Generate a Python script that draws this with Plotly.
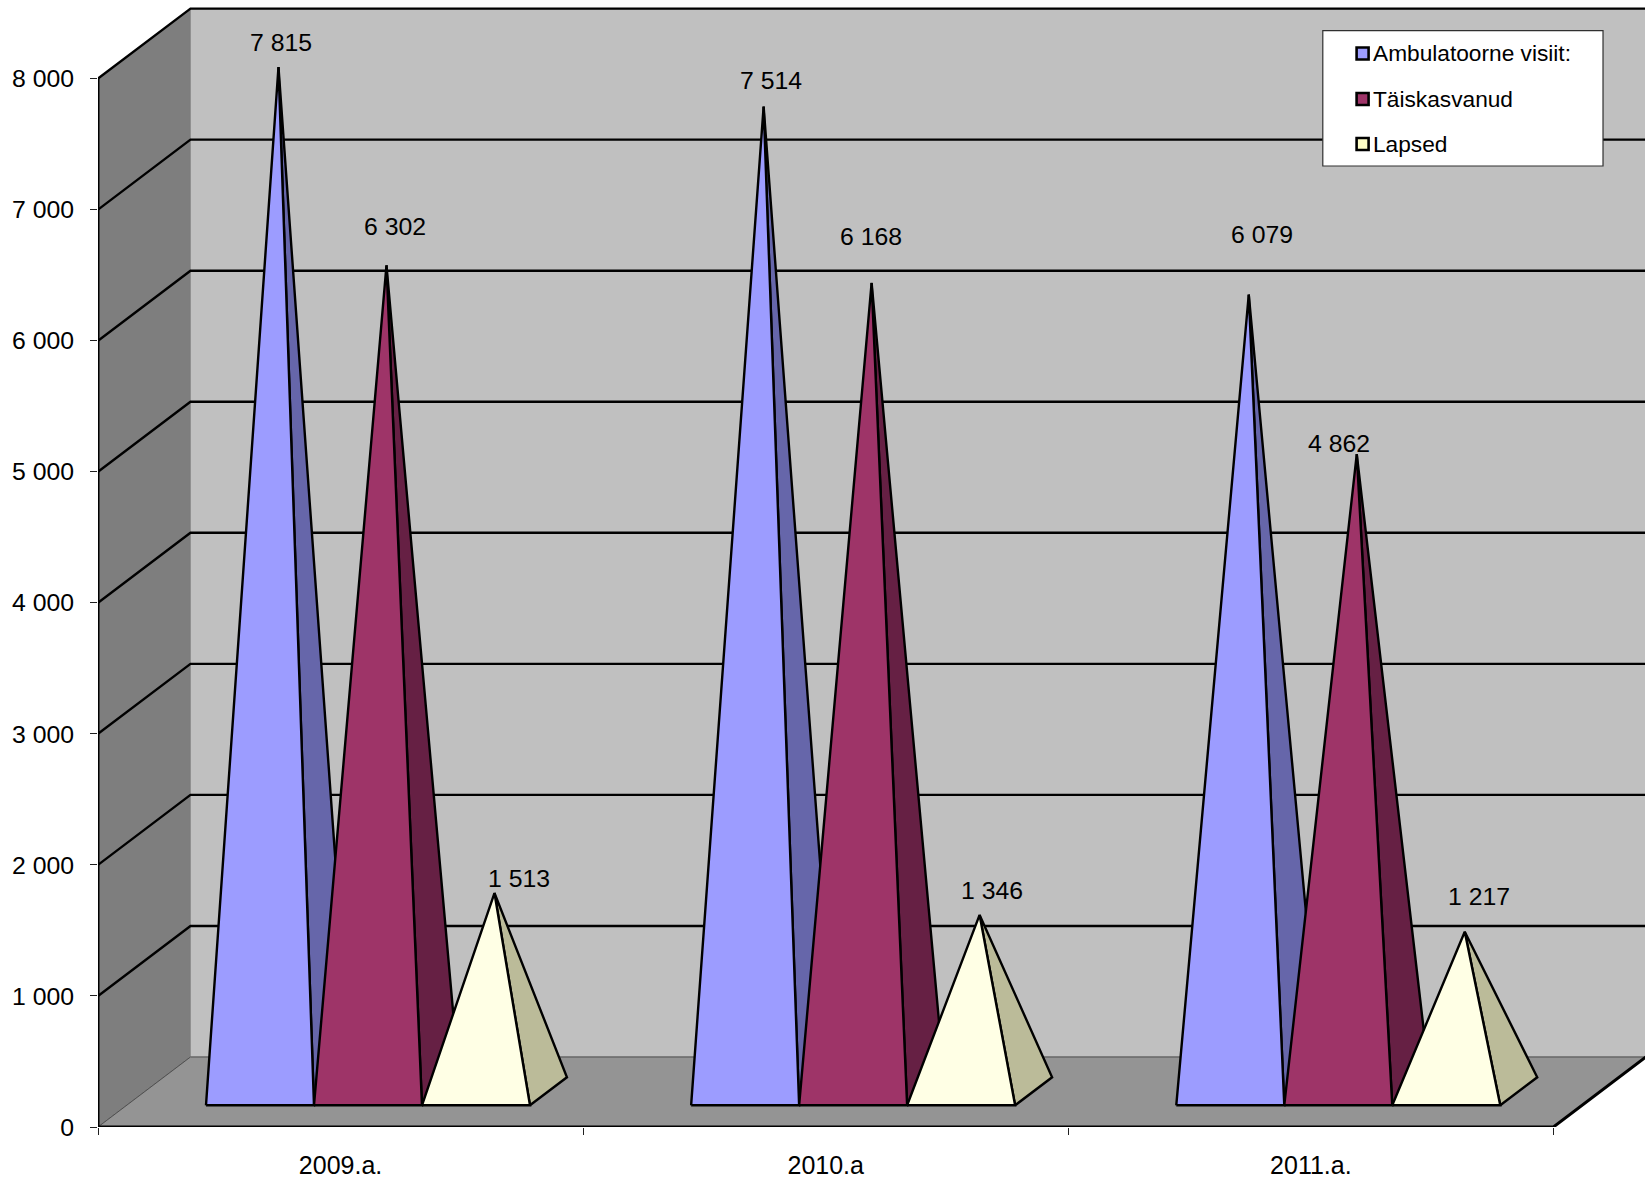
import plotly.graph_objects as go

categories = ["2009.a.", "2010.a", "2011.a."]
series_names = ["Ambulatoorne visiit:", "Täiskasvanud", "Lapsed"]
ambulatoorne = [7815, 7514, 6079]
taiskasvanud = [6302, 6168, 4862]
lapsed = [1513, 1346, 1217]
y_ticks = [0, 1000, 2000, 3000, 4000, 5000, 6000, 7000, 8000]
y_tick_labels = ["0", "1 000", "2 000", "3 000", "4 000", "5 000", "6 000", "7 000", "8 000"]
label_texts = [["7 815", "7 514", "6 079"], ["6 302", "6 168", "4 862"], ["1 513", "1 346", "1 217"]]

series_values = [ambulatoorne, taiskasvanud, lapsed]
front_colors = ["#9C9CFF", "#9E3468", "#FFFFE5"]
side_colors = ["#6666AA", "#662044", "#BBBB99"]
swatch_colors = ["#9C9CFF", "#9E3468", "#FFFFC8"]

# chart scale and oblique projection
PX_PER_CAT = 485.3
PX_PER_UNIT = 0.13105
DEPTH_X = 92.5 / PX_PER_CAT
DEPTH_Y = 70 / PX_PER_UNIT
BAR_W = 0.2226
BAR_START = 0.1635
NEAR, FAR = 0.31, 0.71
N = len(categories)


def proj(x, v, d=0.0):
    return x + d * DEPTH_X, v + d * DEPTH_Y


def poly(points, fill, line="black", width=2.4):
    return go.Scatter(
        x=[p[0] for p in points] + [points[0][0]],
        y=[p[1] for p in points] + [points[0][1]],
        mode="lines", fill="toself", fillcolor=fill,
        line=dict(color=line, width=width), hoverinfo="skip", showlegend=False,
    )


def path(points, color="black", width=2.4):
    return go.Scatter(
        x=[p[0] for p in points], y=[p[1] for p in points], mode="lines",
        line=dict(color=color, width=width), hoverinfo="skip", showlegend=False,
    )


top = y_ticks[-1]
fig = go.Figure()
# walls and floor
fig.add_trace(poly([proj(0, 0), proj(0, top), proj(0, top, 1), proj(0, 0, 1)], "#7E7E7E", "#606060", 1))
fig.add_trace(poly([proj(0, 0, 1), proj(N, 0, 1), proj(N, top, 1), proj(0, top, 1)], "#C0C0C0", "#909090", 1))
fig.add_trace(poly([proj(0, 0), proj(N, 0), proj(N, 0, 1), proj(0, 0, 1)], "#949494", "#505050", 1))
# gridlines
for v in y_ticks[1:]:
    fig.add_trace(path([proj(0, v), proj(0, v, 1), proj(N, v, 1)], "#000000", 2.4))
# axis edges
fig.add_trace(path([proj(0, 0), proj(0, top)], "#000000", 3))
fig.add_trace(path([proj(0, 0), proj(N, 0), proj(N, 0, 1)], "#000000", 3))

# pyramids
for c in range(N):
    for s, values in enumerate(series_values):
        v = values[c]
        left = c + BAR_START + s * BAR_W
        right = left + BAR_W
        mid = left + BAR_W / 2
        middle_depth = (NEAR + FAR) / 2
        apex = proj(mid, v, middle_depth)
        fig.add_trace(poly([proj(right, 0, NEAR), proj(right, 0, FAR), apex], side_colors[s]))
        fig.add_trace(poly([proj(left, 0, NEAR), proj(right, 0, NEAR), apex], front_colors[s]))
        fig.data[-1].name = series_names[s]

# data labels, nudged by hand as in the original
label_nudge = [
    [(3, -25), (7, -26), (13, -60)],
    [(9, -39), (-1, -46), (-18, -11)],
    [(25, -15), (12, -24), (14, -35)],
]
annotations = []
for s, values in enumerate(series_values):
    for c, v in enumerate(values):
        x, y = proj(c + BAR_START + s * BAR_W + BAR_W / 2, v, (NEAR + FAR) / 2)
        dx, dy = label_nudge[s][c]
        annotations.append(dict(
            x=x, y=y, text=label_texts[s][c], showarrow=False,
            xshift=dx, yshift=-dy, xanchor="center", yanchor="middle",
            font=dict(size=24.8, color="black"),
        ))

# legend box
W, H = 1645, 1179
ML, MB = 97.5, 52
PW, PH = W - ML, H - MB


def paper_x(px):
    return (px - ML) / PW


def paper_y(py):
    return (H - MB - py) / PH


shapes = [dict(type="rect", xref="paper", yref="paper",
               x0=paper_x(1322.7), x1=paper_x(1603), y0=paper_y(166), y1=paper_y(30.7),
               fillcolor="white", line=dict(color="#303030", width=1.2), layer="above")]
row_y = [53.5, 99, 144]
for s, name in enumerate(series_names):
    shapes.append(dict(type="rect", xref="paper", yref="paper",
                       x0=paper_x(1356.5), x1=paper_x(1368.5),
                       y0=paper_y(row_y[s] + 6), y1=paper_y(row_y[s] - 6),
                       fillcolor=swatch_colors[s], line=dict(color="black", width=2.6), layer="above"))
    annotations.append(dict(xref="paper", yref="paper", x=paper_x(1370.5), y=paper_y(row_y[s]),
                            text=name, showarrow=False, xanchor="left", yanchor="middle",
                            font=dict(size=22.7, color="black")))

fig.update_layout(
    width=W, height=H, autosize=False,
    margin=dict(l=ML, r=0, t=0, b=MB, pad=0),
    paper_bgcolor="white", plot_bgcolor="white",
    font=dict(family="Liberation Sans, Arial, sans-serif", size=24, color="black"),
    showlegend=False, shapes=shapes, annotations=annotations,
    xaxis=dict(
        range=[0, PW / PX_PER_CAT], showgrid=False, zeroline=False, showline=False,
        tickmode="array", tickvals=[i + 0.5 for i in range(N)], ticktext=categories,
        ticks="", ticklabelstandoff=21,
        minor=dict(tickmode="array", tickvals=list(range(N + 1)), ticks="outside",
                   ticklen=7, tickwidth=1, tickcolor="#202020", showgrid=False),
        tickfont=dict(size=25), fixedrange=True,
    ),
    yaxis=dict(
        range=[0, PH / PX_PER_UNIT], showgrid=False, zeroline=False, showline=False,
        tickmode="array", tickvals=y_ticks, ticktext=y_tick_labels,
        ticks="outside", ticklen=7, tickwidth=1, tickcolor="#202020",
        ticklabelstandoff=11, tickfont=dict(size=24.8), fixedrange=True,
    ),
)

fig.write_html("out.html", config=dict(displayModeBar=False),
               post_script="document.body.style.margin='0';")
